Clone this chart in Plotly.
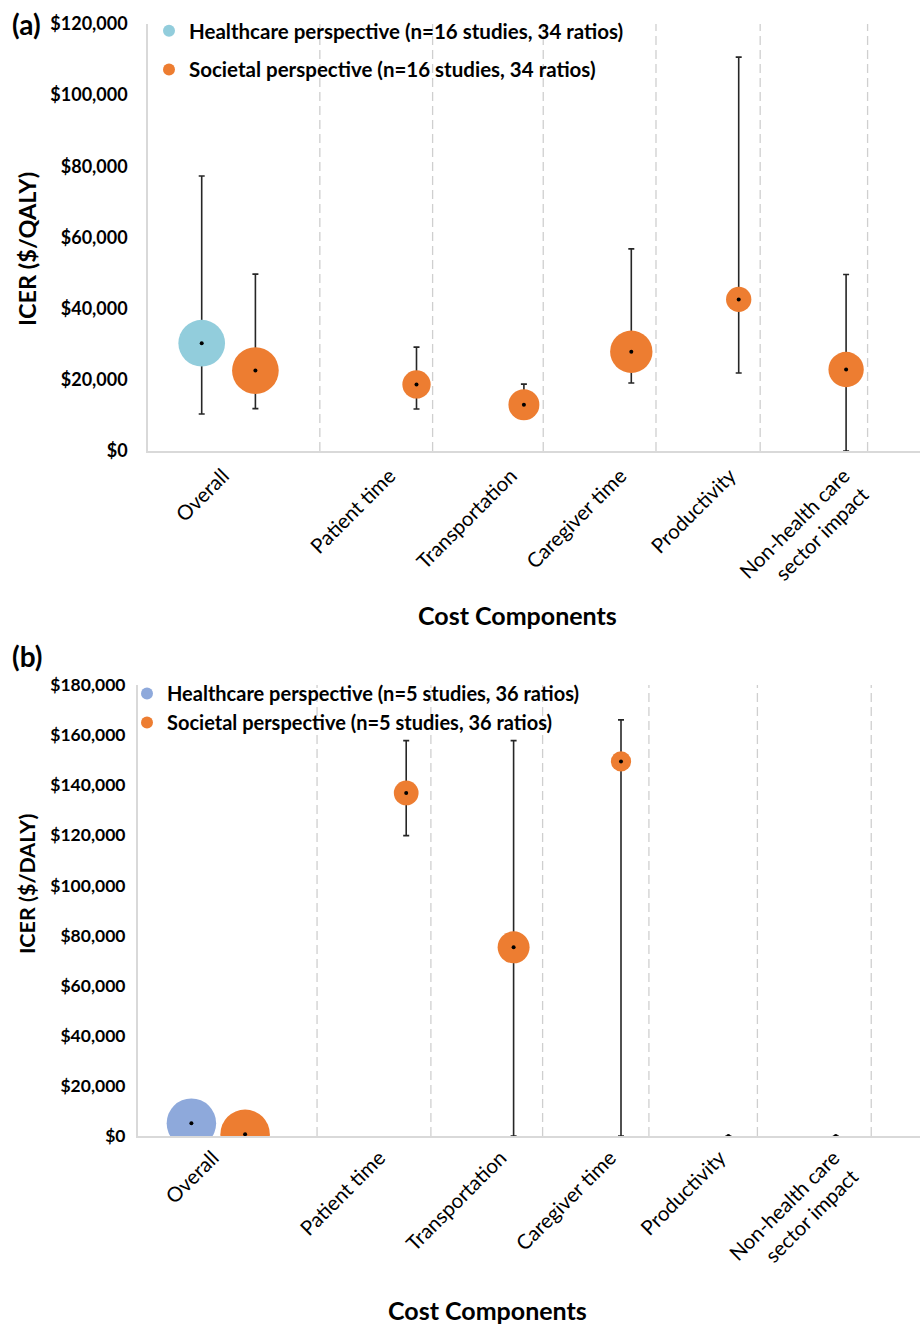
import plotly.graph_objects as go

W, H = 922, 1326

# ---------------- data ----------------
categories = ["Overall", "Patient time", "Transportation", "Caregiver time",
              "Productivity", "Non-health care<br>sector impact"]
cat_tick_x = [1.2, 2.75, 3.88, 4.9, 5.92, 6.98]

# Panel (a): ICER ($/QALY)
a_hc_x = [1]
a_hc_y = [30300]
a_hc_hi = [77300]
a_hc_lo = [10400]
a_hc_ratios = [34]

a_soc_x = [1.5, 3, 4, 5, 6, 7]
a_soc_y = [22600, 18700, 13000, 27900, 42600, 22900]
a_soc_hi = [49700, 29200, 18800, 56800, 110700, 49600]
a_soc_lo = [11900, 11800, 9400, 19100, 21900, 0]
a_soc_ratios = [34, 12.5, 15, 28, 10, 19.5]
a_dividers = [2.10, 3.15, 4.18, 5.23, 6.20, 7.20]

# Panel (b): ICER ($/DALY)
b_hc_x = [1]
b_hc_y = [5100]
b_hc_hi = [5100]
b_hc_lo = [5100]
b_hc_ratios = [36]

b_soc_x = [1.5, 3, 4, 5, 6, 7]
b_soc_y = [700, 136900, 75300, 149500, 0, 0]
b_soc_hi = [700, 157800, 157800, 166100, 0, 0]
b_soc_lo = [700, 119900, 0, 0, 0, 0]
b_soc_ratios = [36, 9, 15, 6, 0, 0]
b_dividers = [2.17, 3.23, 4.27, 5.26, 6.27, 7.33]

a_y_ticks = [0, 20000, 40000, 60000, 80000, 100000, 120000]
b_y_ticks = [0, 20000, 40000, 60000, 80000, 100000, 120000, 140000, 160000, 180000]

# ---------------- style ----------------
ORANGE = "#ED7D31"
LIGHTBLUE = "#92CDDC"
BLUE = "#8EA9DB"
ERR = "#262626"
FONT = "Lato"

fig = go.Figure()


def add_series(x, y, hi, lo, ratios, color, sizeref, xa, ya, with_err=True):
    err = dict(type="data", symmetric=False,
               array=[h - v for h, v in zip(hi, y)],
               arrayminus=[v - l for v, l in zip(y, lo)],
               color=ERR, thickness=1.6, width=3, visible=with_err)
    fig.add_trace(go.Scatter(
        x=x, y=y, mode="markers", xaxis=xa, yaxis=ya, showlegend=False,
        marker=dict(size=ratios, sizemode="area", sizeref=sizeref, color=color,
                    opacity=1, line=dict(width=0)),
        error_y=err, hoverinfo="skip"))
    fig.add_trace(go.Scatter(
        x=x, y=y, mode="markers", xaxis=xa, yaxis=ya, showlegend=False,
        marker=dict(size=4, color="black", opacity=1), hoverinfo="skip"))


sr_a = 34 / 33 ** 2
sr_b = 36 / 35 ** 2
add_series(a_hc_x, a_hc_y, a_hc_hi, a_hc_lo, a_hc_ratios, LIGHTBLUE, sr_a, "x", "y")
add_series(a_soc_x, a_soc_y, a_soc_hi, a_soc_lo, a_soc_ratios, ORANGE, sr_a, "x", "y")
add_series(b_hc_x, b_hc_y, b_hc_hi, b_hc_lo, b_hc_ratios, BLUE, sr_b, "x2", "y2", with_err=False)
add_series(b_soc_x, b_soc_y, b_soc_hi, b_soc_lo, b_soc_ratios, ORANGE, sr_b, "x2", "y2")

# legend entries
legend_items = [
    ("<b>Healthcare perspective (n=16 studies, 34 ratios)</b>", LIGHTBLUE, "legend", "x", "y", "a1"),
    ("<b>Societal perspective (n=16 studies, 34 ratios)</b>", ORANGE, "legend", "x", "y", "a2"),
    ("<b>Healthcare perspective (n=5 studies, 36 ratios)</b>", BLUE, "legend2", "x2", "y2", "b1"),
    ("<b>Societal perspective (n=5 studies, 36 ratios)</b>", ORANGE, "legend2", "x2", "y2", "b2"),
]
for name, col, lg, xa, ya, grp in legend_items:
    fig.add_trace(go.Scatter(x=[None], y=[None], mode="markers", name=name,
                             marker=dict(size=12, color=col), legend=lg,
                             legendgroup=grp, xaxis=xa, yaxis=ya))

# dashed dividers
for d in a_dividers:
    fig.add_shape(type="line", xref="x", yref="y", x0=d, x1=d, y0=0, y1=a_y_ticks[-1] * 1.02,
                  line=dict(color="#CFCFCF", width=1.3, dash="9px,5px"), layer="below")
for d in b_dividers:
    fig.add_shape(type="line", xref="x2", yref="y2", x0=d, x1=d, y0=0, y1=b_y_ticks[-1] * 1.02,
                  line=dict(color="#CFCFCF", width=1.3, dash="9px,5px"), layer="below")

xaxis_common = dict(tickmode="array", tickvals=cat_tick_x, ticktext=categories,
                    tickangle=-45, ticks="", showgrid=False, zeroline=False,
                    showline=True, linecolor="#D9D9D9", linewidth=1.5, automargin=False,
                    tickfont=dict(family=FONT, size=20.5, color="#000"))
yaxis_common = dict(showgrid=False, zeroline=False, showline=True, automargin=False,
                    linecolor="#D9D9D9", linewidth=1.5, ticks="", tickmode="array")


def money(vals):
    return [f"${v:,}" for v in vals]


fig.update_layout(
    width=W, height=H, margin=dict(l=0, r=0, t=0, b=0),
    paper_bgcolor="white", plot_bgcolor="white",
    font=dict(family=FONT, color="#000"),
    xaxis=dict(xaxis_common, domain=[148 / W, 920 / W],
               range=[0.5, 0.5 + (920 - 148) / 107.4], anchor="y",
               ticklabelstandoff=3),
    yaxis=dict(yaxis_common, domain=[1 - 451 / H, 1 - 24 / H], range=[0, 120000],
               anchor="x", tickvals=a_y_ticks, ticktext=money(a_y_ticks), ticklabelstandoff=15,
               tickfont=dict(family=FONT, size=18, color="#000", weight=700)),
    xaxis2=dict(xaxis_common, domain=[137.7 / W, 920 / W],
                range=[0.5, 0.5 + (920 - 137.7) / 107.4], anchor="y2",
                ticklabelstandoff=0),
    yaxis2=dict(yaxis_common, domain=[1 - 1136 / H, 1 - 685 / H], range=[0, 180000],
                anchor="x2", tickvals=b_y_ticks, ticktext=money(b_y_ticks), ticklabelstandoff=7,
                tickfont=dict(family=FONT, size=17.5, color="#000", weight=700)),
    legend=dict(x=149 / W, xanchor="left", y=1 - 11 / H, yanchor="top",
                font=dict(family=FONT, size=20.5, color="#000"),
                bgcolor="rgba(0,0,0,0)", tracegroupgap=9, traceorder="grouped"),
    legend2=dict(x=127 / W, xanchor="left", y=1 - 674 / H, yanchor="top",
                 font=dict(family=FONT, size=20, color="#000"),
                 bgcolor="rgba(0,0,0,0)", tracegroupgap=0, traceorder="grouped"),
)

annots = [
    dict(text="<b>(a)</b>", x=10 / W, y=1 - 24 / H, size=28),
    dict(text="<b>(b)</b>", x=10 / W, y=1 - 656 / H, size=28),
]
for a in annots:
    fig.add_annotation(text=a["text"], x=a["x"], y=a["y"], xref="paper", yref="paper",
                       xanchor="left", yanchor="middle", showarrow=False,
                       font=dict(family=FONT, size=a["size"], color="#000"))

titles = [
    ("<b>ICER ($/QALY)</b>", 27, 249, -90, 23.5),
    ("<b>ICER ($/DALY)</b>", 27, 884, -90, 21.5),
    ("<b>Cost Components</b>", 517, 615, 0, 25),
    ("<b>Cost Components</b>", 487, 1310, 0, 25),
]
for t, xp, yp, ang, sz in titles:
    fig.add_annotation(text=t, x=xp / W, y=1 - yp / H, xref="paper", yref="paper",
                       xanchor="center", yanchor="middle", showarrow=False, textangle=ang,
                       font=dict(family=FONT, size=sz, color="#000"))

fig.write_html("out.html")
